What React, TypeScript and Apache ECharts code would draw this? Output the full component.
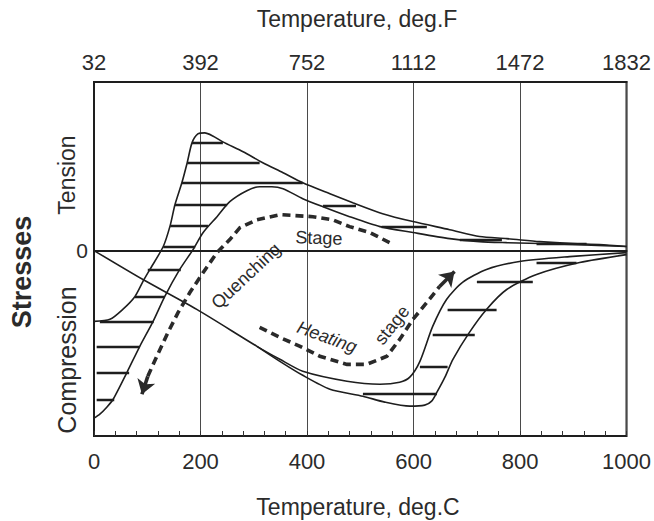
import React, { useEffect, useRef } from "react";
import * as echarts from "echarts";

// Axis ticks (deg C on the bottom, matching deg F labels on top)
const celsiusTicks = [0, 200, 400, 600, 800, 1000];
const fahrenheitLabels = ["32", "392", "752", "1112", "1472", "1832"];
const minorTickStep = 40;

// Stress scale (relative units, tension positive)
const stressMin = -110;
const stressMax = 100;

// Quenching stage: outer stress curve (peak tension ~210 C)
const outerQuench: number[][] = [
  [0, -42.0], [30, -40.8], [54, -34.9], [77, -27.2], [92, -18.3], [105, -11.2],
  [130, 2.4], [143, 14.8], [152, 27.2], [165, 40.2], [175, 52.1], [184, 63.9],
  [195, 69.2], [208, 69.8], [223, 68.0], [242, 64.5], [280, 58.6], [317, 52.1],
  [355, 46.2], [392, 40.2], [443, 33.7], [486, 28.4], [542, 21.9], [599, 17.2],
  [668, 12.4], [724, 8.3], [775, 7.1], [837, 5.3], [899, 4.1], [949, 3.6], [1000, 2.4],
];

// Quenching stage: inner stress curve
const innerQuench: number[][] = [
  [0, -99.4], [11, -97.0], [24, -92.9], [36, -88.2], [62, -72.2], [86, -56.8],
  [111, -42.0], [133, -27.2], [161, -11.2], [186, 0.6], [205, 10.7], [231, 20.1],
  [255, 29.0], [287, 35.5], [311, 37.9], [334, 37.9], [355, 36.7], [392, 30.8],
  [430, 26.0], [480, 20.1], [537, 14.2], [599, 10.7], [668, 7.1], [724, 5.3],
  [775, 4.7], [899, 3.6], [1000, 2.4],
];

// Heating stage: inner curve (starts at zero)
const heatingInner: number[][] = [
  [0, 0], [92, -17.2], [193, -34.9], [306, -56.8], [349, -64.5], [392, -71.6],
  [475, -77.5], [537, -79.3], [574, -78.1], [593, -75.1], [612, -65.7], [636, -45.0],
  [662, -29.0], [692, -18.9], [737, -11.2], [799, -6.5], [893, -3.6], [1000, -1.2],
];

// Heating stage: outer curve (branches off the inner one)
const heatingOuter: number[][] = [
  [306, -56.8], [349, -65.7], [392, -74.0], [443, -82.2], [505, -86.4], [546, -89.9],
  [593, -92.3], [621, -91.7], [634, -89.3], [644, -84.0], [659, -75.1], [674, -64.5],
  [705, -48.5], [737, -34.9], [775, -23.1], [831, -14.2], [912, -7.1], [1000, -2.4],
];

// Hatching strokes: [stress, fromTemp, toTemp]
const quenchHatch: number[][] = [
  [63.9, 184, 242], [52.1, 175, 311], [40.2, 165, 392], [27.2, 152, 250],
  [26.5, 430, 492], [14.8, 143, 214], [14.2, 540, 625], [6.5, 687, 766],
  [4.2, 831, 925], [2.4, 130, 190],
];
const lowerHatch: number[][] = [
  [-11.2, 101, 163], [-27.2, 77, 133], [-42.0, 11, 112], [-56.8, 5, 86],
  [-72.2, 5, 66], [-88.2, 5, 38],
];
const heatingHatch: number[][] = [
  [-7.1, 831, 906], [-18.3, 719, 824], [-34.9, 664, 756], [-49.7, 636, 715],
  [-69.2, 612, 664], [-85.2, 505, 644],
];

// Dashed arrows
const quenchArrow: number[][] = [
  [555, 4.7], [518, 10.7], [480, 14.2], [448, 18.3], [411, 20.1], [349, 21.3],
  [306, 18.3], [274, 13.6], [255, 6.5], [231, -1.2], [205, -13.0], [180, -24.9],
  [158, -36.7], [139, -48.5], [118, -62.7], [101, -74.6], [90, -85.2],
];
const heatingArrow: number[][] = [
  [311, -45.6], [349, -51.5], [387, -56.8], [424, -62.7], [475, -67.5], [512, -67.5],
  [550, -62.7], [574, -52.7], [599, -40.8], [625, -30.8], [649, -21.3], [677, -12.4],
];

const INK = "#1e1e1e";
const TEXT = "#2b2b2b";
const FONT = '"Liberation Sans", Arial, sans-serif';

export default function App() {
  const ref = useRef<HTMLDivElement>(null);

  useEffect(() => {
    if (!ref.current) return;
    const chart = echarts.init(ref.current, null, { renderer: "svg" });

    const curve = (data: number[][]) => ({
      type: "line",
      data,
      smooth: 0.25,
      showSymbol: false,
      silent: true,
      lineStyle: { color: INK, width: 1.6 },
      z: 3,
    });

    const hatch = [...quenchHatch, ...lowerHatch, ...heatingHatch].map(([y, x1, x2]) => ({
      coords: [[x1, y], [x2, y]],
    }));

    const arrowBody = (coords: number[][]) => ({
      type: "lines",
      coordinateSystem: "cartesian2d",
      polyline: true,
      silent: true,
      lineStyle: { color: "#2a2a2a", width: 3.6, type: [8, 5], opacity: 1, curveness: 0 },
      data: [{ coords: coords.slice(0, coords.length - 1) }],
      z: 4,
    });
    const arrowHead = (coords: number[][]) => ({
      type: "lines",
      coordinateSystem: "cartesian2d",
      silent: true,
      symbol: ["none", "arrow"],
      symbolSize: 14,
      lineStyle: { color: "#2a2a2a", width: 3.6, opacity: 1, curveness: 0 },
      data: [{ coords: coords.slice(coords.length - 2) }],
      z: 4,
    });

    const step = celsiusTicks[1] - celsiusTicks[0];
    const xMin = celsiusTicks[0];
    const xMax = celsiusTicks[celsiusTicks.length - 1];

    const option: any = {
      animation: false,
      backgroundColor: "#ffffff",
      textStyle: { fontFamily: FONT },
      grid: {
        left: 94,
        right: 27,
        top: 82,
        bottom: 85,
        show: true,
        borderColor: INK,
        borderWidth: 2,
        backgroundColor: "transparent",
      },
      xAxis: [
        {
          type: "value",
          position: "bottom",
          min: xMin,
          max: xMax,
          interval: step,
          axisLine: { show: true, lineStyle: { color: INK, width: 2 } },
          axisTick: { show: false },
          splitLine: { show: true, lineStyle: { color: "#4a4a4a", width: 1 } },
          axisLabel: {
            color: TEXT,
            fontSize: 22,
            margin: 14,
            fontFamily: FONT,
            formatter: (v: number) => String(v),
          },
        },
        {
          type: "value",
          position: "top",
          min: xMin,
          max: xMax,
          interval: step,
          axisLine: { show: true, lineStyle: { color: INK, width: 2 } },
          axisTick: { show: false },
          splitLine: { show: false },
          axisLabel: {
            color: TEXT,
            fontSize: 22,
            margin: 9,
            fontFamily: FONT,
            formatter: (v: number) => {
              const i = celsiusTicks.indexOf(v);
              return i >= 0 ? fahrenheitLabels[i] : "";
            },
          },
        },
        {
          type: "value",
          position: "bottom",
          min: xMin,
          max: xMax,
          interval: minorTickStep,
          axisLine: { show: false },
          axisTick: { show: true, inside: true, length: 5, lineStyle: { color: "#333", width: 1 } },
          axisLabel: { show: false },
          splitLine: { show: false },
        },
      ],
      yAxis: {
        type: "value",
        min: stressMin,
        max: stressMax,
        axisLine: { show: true, lineStyle: { color: INK, width: 2 } },
        axisTick: { show: false },
        splitLine: { show: false },
        axisLabel: {
          color: TEXT,
          fontSize: 21,
          margin: 6,
          fontFamily: FONT,
          showMinLabel: false,
          showMaxLabel: false,
          formatter: (v: number) => (v === 0 ? "0" : ""),
        },
      },
      graphic: [
        {
          type: "text", x: 357, y: 19,
          style: { text: "Temperature, deg.F", font: `23px ${FONT}`, fill: TEXT, align: "center", verticalAlign: "middle" },
        },
        {
          type: "text", x: 358, y: 507,
          style: { text: "Temperature, deg.C", font: `23px ${FONT}`, fill: TEXT, align: "center", verticalAlign: "middle" },
        },
        {
          type: "text", x: 22, y: 272, rotation: Math.PI / 2,
          style: { text: "Stresses", font: `bold 27px ${FONT}`, fill: TEXT, align: "center", verticalAlign: "middle" },
        },
        {
          type: "text", x: 67, y: 175, rotation: Math.PI / 2,
          style: { text: "Tension", font: `23px ${FONT}`, fill: TEXT, align: "center", verticalAlign: "middle" },
        },
        {
          type: "text", x: 67, y: 360, rotation: Math.PI / 2,
          style: { text: "Compression", font: `25px ${FONT}`, fill: TEXT, align: "center", verticalAlign: "middle" },
        },
        {
          type: "text", x: 246, y: 276, rotation: 0.75,
          style: { text: "Quenching", font: `18px ${FONT}`, fill: TEXT, align: "center", verticalAlign: "middle" },
        },
        {
          type: "text", x: 319, y: 238, rotation: -0.03,
          style: { text: "Stage", font: `18px ${FONT}`, fill: TEXT, align: "center", verticalAlign: "middle" },
        },
        {
          type: "text", x: 327, y: 337, rotation: -0.35,
          style: { text: "Heating", font: `italic 18px ${FONT}`, fill: TEXT, align: "center", verticalAlign: "middle" },
        },
        {
          type: "text", x: 392, y: 325, rotation: 0.9,
          style: { text: "stage", font: `18px ${FONT}`, fill: TEXT, align: "center", verticalAlign: "middle" },
        },
      ],
      series: [
        {
          type: "line",
          data: [[xMin, 0], [xMax, 0]],
          showSymbol: false,
          silent: true,
          lineStyle: { color: INK, width: 1.3 },
          z: 2,
        },
        curve(outerQuench),
        curve(innerQuench),
        curve(heatingInner),
        curve(heatingOuter),
        {
          type: "lines",
          coordinateSystem: "cartesian2d",
          silent: true,
          lineStyle: { color: INK, width: 2.4, opacity: 1, curveness: 0 },
          data: hatch,
          z: 3,
        },
        arrowBody(quenchArrow),
        arrowHead(quenchArrow),
        arrowBody(heatingArrow),
        arrowHead(heatingArrow),
      ],
    };

    chart.setOption(option);
    return () => chart.dispose();
  }, []);

  return (
    <div
      ref={ref}
      style={{ position: "fixed", left: 0, top: 0, width: 654, height: 521, background: "#fff" }}
    />
  );
}
